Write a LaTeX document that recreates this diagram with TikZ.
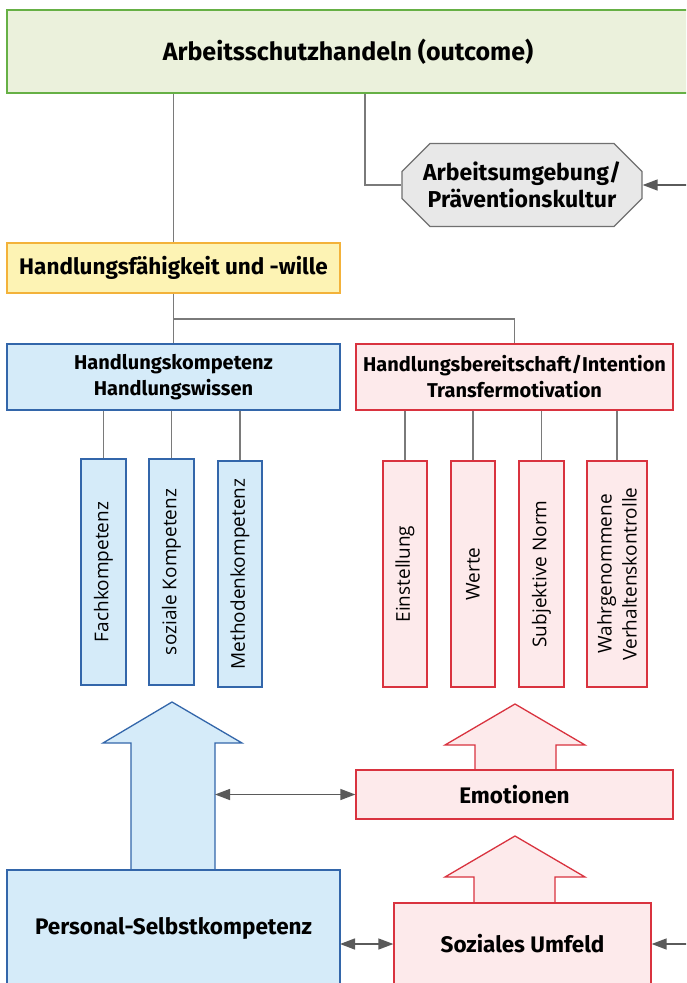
\documentclass[tikz,border=0pt]{standalone}
\usepackage{fontspec}
\usetikzlibrary{arrows.meta,shapes.misc}
\newfontfamily\hfont{Fira Sans}
\newfontfamily\lfont{Open Sans}
\definecolor{grnB}{HTML}{66B045}
\definecolor{grnF}{HTML}{EBF1DC}
\definecolor{yelB}{HTML}{F3B23A}
\definecolor{yelF}{HTML}{FDF3B4}
\definecolor{bluB}{HTML}{3366AA}
\definecolor{bluF}{HTML}{D5EBF9}
\definecolor{redB}{HTML}{D9333F}
\definecolor{redF}{HTML}{FDEAEB}
\definecolor{gryB}{HTML}{707070}
\definecolor{gryF}{HTML}{E8E8E8}
\definecolor{lineC}{HTML}{7A7A7A}
\definecolor{arrC}{HTML}{5A5A5A}
\tikzset{
  box/.style={draw, line width=1.3pt, inner sep=0pt, align=center, font=\hfont\bfseries},
  grnbox/.style={box, draw=grnB, fill=grnF},
  yelbox/.style={box, draw=yelB, fill=yelF},
  blubox/.style={box, draw=bluB, fill=bluF},
  redbox/.style={box, draw=redB, fill=redF},
  tallblue/.style={draw=bluB, fill=bluF, line width=1.3pt, minimum height=226pt, inner sep=0pt},
  tallred/.style={draw=redB, fill=redF, line width=1.3pt, minimum height=226pt, inner sep=0pt},
  talltext/.style={rotate=90, font=\lfont\fontsize{19}{25}\selectfont, align=center, inner sep=0pt},
  lbl/.style={font=\hfont\bfseries\fontsize{22.5}{26}\selectfont, inner sep=0pt},
  conn/.style={draw=lineC, line width=1.4pt},
  arr/.style={draw=arrC, line width=1.4pt, -{Triangle[length=15pt,width=11pt]}},
  darr/.style={draw=arrC, line width=1.4pt, {Triangle[length=15pt,width=11pt]}-{Triangle[length=15pt,width=11pt]}},
  bigblue/.style={draw=bluB, fill=bluF, line width=1.3pt, line join=miter},
  bigred/.style={draw=redB, fill=redF, line width=1.3pt, line join=miter},
}
\begin{document}
\begin{tikzpicture}[x=1pt,y=-1pt]
\useasboundingbox (0,0) rectangle (686,983);
\clip (0,0) rectangle (686,983);
\fill[white] (0,0) rectangle (686,983);

% top box
\node[grnbox, minimum width=682pt, minimum height=83pt, font=\hfont\bfseries\fontsize{25}{29}\selectfont] (top) at (348,51.5) {Arbeitsschutzhandeln (outcome)};

% octagon
\node[box, chamfered rectangle, chamfered rectangle xsep=14pt, chamfered rectangle ysep=14pt,
      draw=gryB, fill=gryF, minimum width=240pt, minimum height=83pt,
      font=\hfont\bfseries\fontsize{23}{27}\selectfont] (oct) at (522,185) {Arbeitsumgebung/\\Präventionskultur};

% yellow
\node[yelbox, minimum width=333pt, minimum height=50pt, font=\hfont\bfseries\fontsize{22.5}{26}\selectfont] (yel) at (173.5,268) {Handlungsfähigkeit und -wille};

% second row
\node[blubox, minimum width=333pt, minimum height=66pt, font=\hfont\bfseries\fontsize{20}{26}\selectfont] (hk) at (173.5,377) {Handlungskompetenz\\Handlungswissen};
\node[redbox, minimum width=317pt, minimum height=66pt, font=\hfont\bfseries\fontsize{20}{26}\selectfont] (hb) at (514.5,377) {Handlungsbereitschaft/Intention\\Transfermotivation};

% tall boxes
\node[tallblue, minimum width=45pt] (fach) at (103.5,572) {};
\node[tallblue, minimum width=45pt] (sozk) at (171.5,572) {};
\node[tallblue, minimum width=44pt] (meth) at (240,574) {};
\node[tallred, minimum width=44pt] (einst) at (405,574) {};
\node[tallred, minimum width=44pt] (werte) at (473,574) {};
\node[tallred, minimum width=45pt] (subj) at (541.5,574) {};
\node[tallred, minimum width=60pt] (wahr) at (617,574) {};
\node[talltext] (fachT) at (fach.center) {Fachkompetenz};
\node[talltext] (sozkT) at (sozk.center) {soziale Kompetenz};
\node[talltext] (methT) at (meth.center) {Methodenkompetenz};
\node[talltext] (einstT) at (einst.center) {Einstellung};
\node[talltext] (werteT) at (werte.center) {Werte};
\node[talltext] (subjT) at (subj.center) {Subjektive Norm};
\node[talltext] (wahrT) at (wahr.center) {Wahrgenommene\\Verhaltenskontrolle};

% big arrows
\draw[bigblue] (131,872) -- (131,743) -- (103,743) -- (172,702) -- (242,743) -- (215,743) -- (215,872);
\draw[bigred] (475,772) -- (475,745) -- (445,745) -- (515,704) -- (585,745) -- (556,745) -- (556,772);
\draw[bigred] (474,905) -- (474,877) -- (445,877) -- (515,836) -- (585,877) -- (555,877) -- (555,905);

% lower boxes
\node[redbox, minimum width=317pt, minimum height=49pt, font=\hfont\bfseries\fontsize{22.5}{26}\selectfont] (emo) at (514.5,794.5) {Emotionen};
\node[blubox, minimum width=333pt, minimum height=120pt] (pers) at (173.5,930) {};
\node[lbl] (persT) at (173.5,928) {Personal-Selbstkompetenz};
\node[redbox, minimum width=257pt, minimum height=86pt] (soz) at (522.5,946) {};
\node[lbl] (sozT) at (522.5,944) {Soziales Umfeld};

% connectors
\coordinate (c1) at (365,0);
\coordinate (br) at (173.5,319);
\coordinate (rin1) at (690,185);
\coordinate (rin2) at (690,944);
\coordinate (shaft) at (215,794.5);
\coordinate (pe) at (340,944);
\draw[conn] (top.south -| yel.north) -- (yel.north);
\draw[conn] (top.south -| c1) |- (oct.west);
\draw[arr] (rin1) -- (oct.east);
\draw[conn] (yel.south) -- (hk.north);
\draw[conn] (br) -| (hb.north);
\draw[conn] (hk.south -| fach.north) -- (fach.north);
\draw[conn] (hk.south -| sozk.north) -- (sozk.north);
\draw[conn] (hk.south -| meth.north) -- (meth.north);
\draw[conn] (hb.south -| einst.north) -- (einst.north);
\draw[conn] (hb.south -| werte.north) -- (werte.north);
\draw[conn] (hb.south -| subj.north) -- (subj.north);
\draw[conn] (hb.south -| wahr.north) -- (wahr.north);
\draw[darr] (shaft) -- (emo.west);
\draw[darr] (pe) -- (soz.west |- pe);
\draw[arr] (rin2) -- (soz.east |- rin2);
\end{tikzpicture}
\end{document}
